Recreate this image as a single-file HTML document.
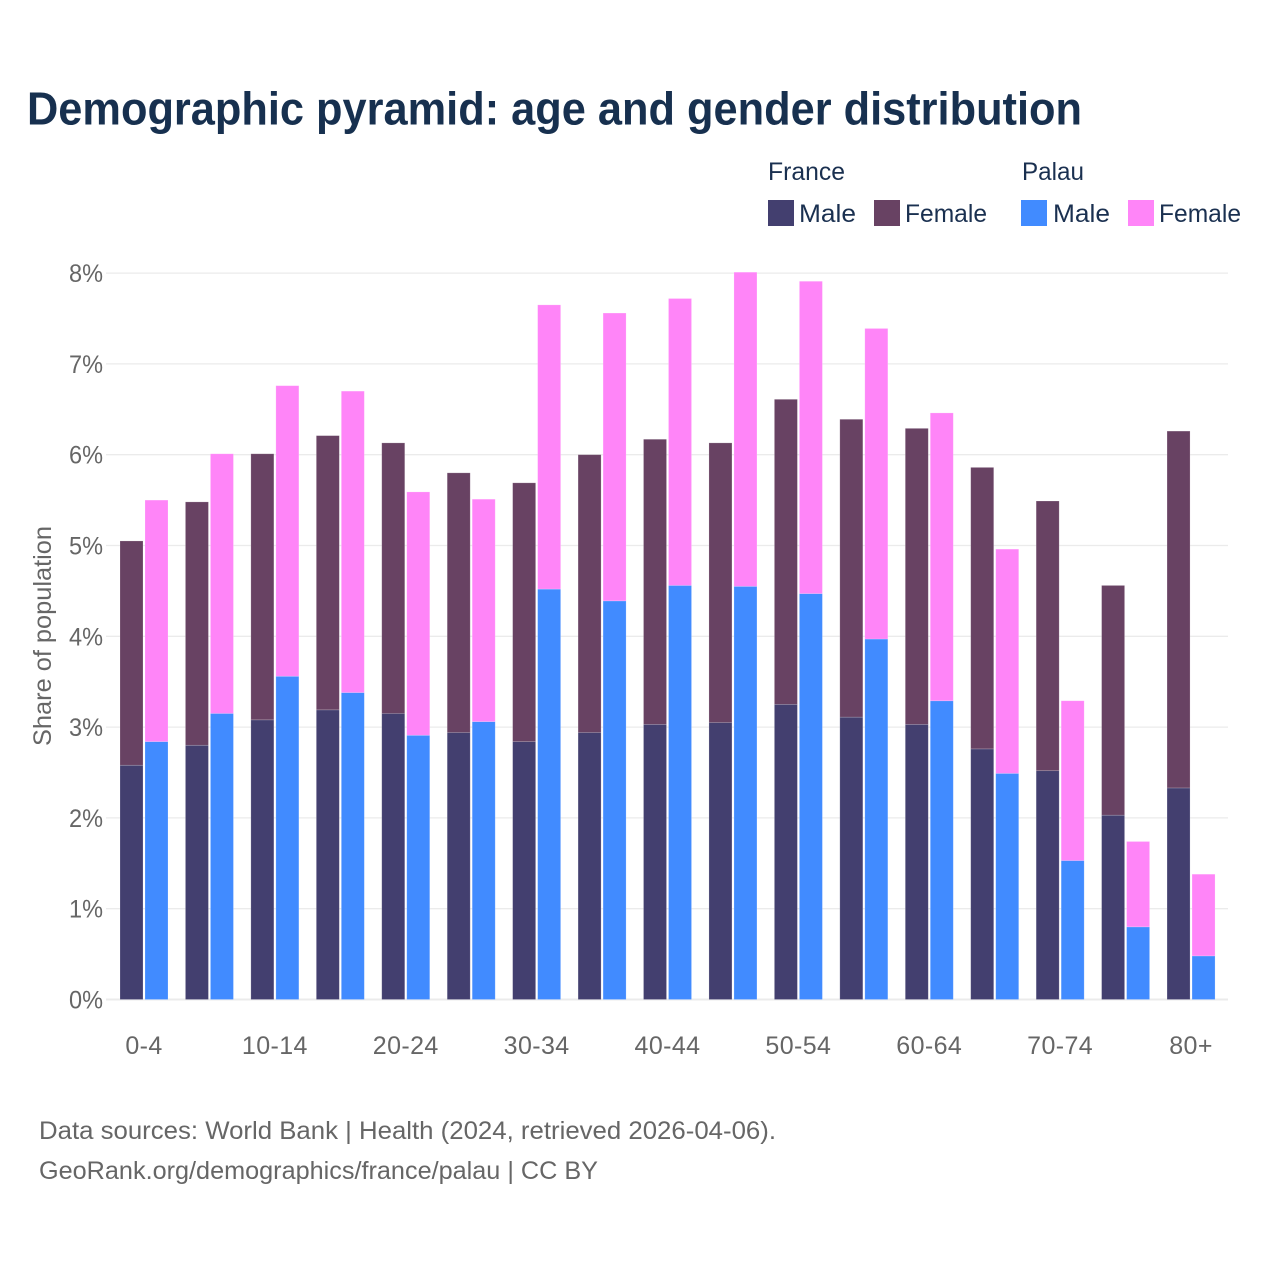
<!DOCTYPE html>
<html lang="en">
<head>
<meta charset="utf-8">
<title>Demographic pyramid: age and gender distribution</title>
<style>
html,body{margin:0;padding:0;background:#fff;}
svg{display:block;font-family:"Liberation Sans",sans-serif;}
</style>
</head>
<body>
<svg id="chart" width="1280" height="1280" viewBox="0 0 1280 1280" xmlns="http://www.w3.org/2000/svg">
  <rect x="0" y="0" width="1280" height="1280" fill="#ffffff"/>
  <text x="27" y="124.5" font-size="46" font-weight="700" fill="#17304f" textLength="1055" lengthAdjust="spacingAndGlyphs">Demographic pyramid: age and gender distribution</text>

  <g fill="#1a3050" font-size="25">
    <text x="768" y="180" textLength="77" lengthAdjust="spacingAndGlyphs">France</text>
    <text x="1022" y="180" textLength="62" lengthAdjust="spacingAndGlyphs">Palau</text>
    <rect x="768" y="200" width="26" height="26" fill="#433f6f"/>
    <text x="799" y="222" textLength="57" lengthAdjust="spacingAndGlyphs">Male</text>
    <rect x="874" y="200" width="26" height="26" fill="#684263"/>
    <text x="905" y="222" textLength="82" lengthAdjust="spacingAndGlyphs">Female</text>
    <rect x="1021" y="200" width="26" height="26" fill="#418bff"/>
    <text x="1053" y="222" textLength="57" lengthAdjust="spacingAndGlyphs">Male</text>
    <rect x="1128" y="200" width="26" height="26" fill="#ff85f8"/>
    <text x="1159" y="222" textLength="82" lengthAdjust="spacingAndGlyphs">Female</text>
  </g>

  <g id="grid"></g>
  <g id="bars"></g>
  <g id="yticks"></g>
  <g id="xticks"></g>

  <text transform="translate(51,746) rotate(-90)" font-size="25" fill="#666666" textLength="220" lengthAdjust="spacingAndGlyphs">Share of population</text>

  <text x="39" y="1139" font-size="25" fill="#666666" textLength="737" lengthAdjust="spacingAndGlyphs">Data sources: World Bank | Health (2024, retrieved 2026-04-06).</text>
  <text x="39" y="1179" font-size="25" fill="#666666" textLength="559" lengthAdjust="spacingAndGlyphs">GeoRank.org/demographics/france/palau | CC BY</text>
</svg>
<script>
const categories = ["0-4","5-9","10-14","15-19","20-24","25-29","30-34","35-39","40-44","45-49","50-54","55-59","60-64","65-69","70-74","75-79","80+"];
const franceMale = [2.58,2.80,3.08,3.19,3.15,2.94,2.84,2.94,3.03,3.05,3.25,3.11,3.03,2.76,2.52,2.03,2.33];
const franceFemale = [2.47,2.68,2.93,3.02,2.98,2.86,2.85,3.06,3.14,3.08,3.36,3.28,3.26,3.10,2.97,2.53,3.93];
const palauMale = [2.84,3.15,3.56,3.38,2.91,3.06,4.52,4.39,4.56,4.55,4.47,3.97,3.29,2.49,1.53,0.80,0.48];
const palauFemale = [2.66,2.86,3.20,3.32,2.68,2.45,3.13,3.17,3.16,3.46,3.44,3.42,3.17,2.47,1.76,0.94,0.90];
const yTickValues = [0,1,2,3,4,5,6,7,8];
const yTickLabels = ["0%","1%","2%","3%","4%","5%","6%","7%","8%"];

const NS = "http://www.w3.org/2000/svg";
const plotLeft = 106, plotRight = 1228;
const y0 = 999.5, yUnit = 90.8;
const bandStart = 120, bandStep = 65.44, barWidth = 23, barGap = 25;

function yScale(v){ return y0 - v * yUnit; }
function xScale(i){ return bandStart + i * bandStep; }

const gridLayer = document.getElementById("grid");
const barLayer = document.getElementById("bars");
const yLayer = document.getElementById("yticks");
const xLayer = document.getElementById("xticks");

yTickValues.forEach(function(v, i){
  const line = document.createElementNS(NS, "line");
  
  
  line.setAttribute("x1", plotLeft);
  line.setAttribute("x2", plotRight);
  line.setAttribute("y1", yScale(v));
  line.setAttribute("y2", yScale(v));
  line.setAttribute("stroke", "#ebebeb");
  line.setAttribute("stroke-width", v === 0 ? 2 : 1.3);
  gridLayer.appendChild(line);

  const label = document.createElementNS(NS, "text");
  
  
  label.setAttribute("x", 69);
  label.setAttribute("y", yScale(v) + 9);
  label.setAttribute("font-size", 25);
  label.setAttribute("fill", "#666666");
  label.setAttribute("textLength", 34);
  label.setAttribute("lengthAdjust", "spacingAndGlyphs");
  label.textContent = yTickLabels[i];
  yLayer.appendChild(label);
});

function drawBar(x, from, to, fill){
  const r = document.createElementNS(NS, "rect");
  
  
  r.setAttribute("x", x);
  r.setAttribute("y", yScale(to));
  r.setAttribute("width", barWidth);
  r.setAttribute("height", Math.max(0, yScale(from) - yScale(to)));
  r.setAttribute("fill", fill);
  r.setAttribute("stroke", "#ffffff");
  r.setAttribute("stroke-opacity", "0.25");
  r.setAttribute("stroke-width", "0.7");
  barLayer.appendChild(r);
}

categories.forEach(function(cat, i){
  const x = xScale(i);
  drawBar(x, 0, franceMale[i], "#433f6f");
  drawBar(x, franceMale[i], franceMale[i] + franceFemale[i], "#684263");
  drawBar(x + barGap, 0, palauMale[i], "#418bff");
  drawBar(x + barGap, palauMale[i], palauMale[i] + palauFemale[i], "#ff85f8");

  if (i % 2 === 0) {
    const t = document.createElementNS(NS, "text");
    
    
    t.setAttribute("x", x + 24);
    t.setAttribute("y", 1054);
    t.setAttribute("text-anchor", "middle");
    t.setAttribute("font-size", 25);
    t.setAttribute("letter-spacing", "0.4");
    t.setAttribute("fill", "#666666");
    t.textContent = cat;
    xLayer.appendChild(t);
  }
});
</script>
</body>
</html>
